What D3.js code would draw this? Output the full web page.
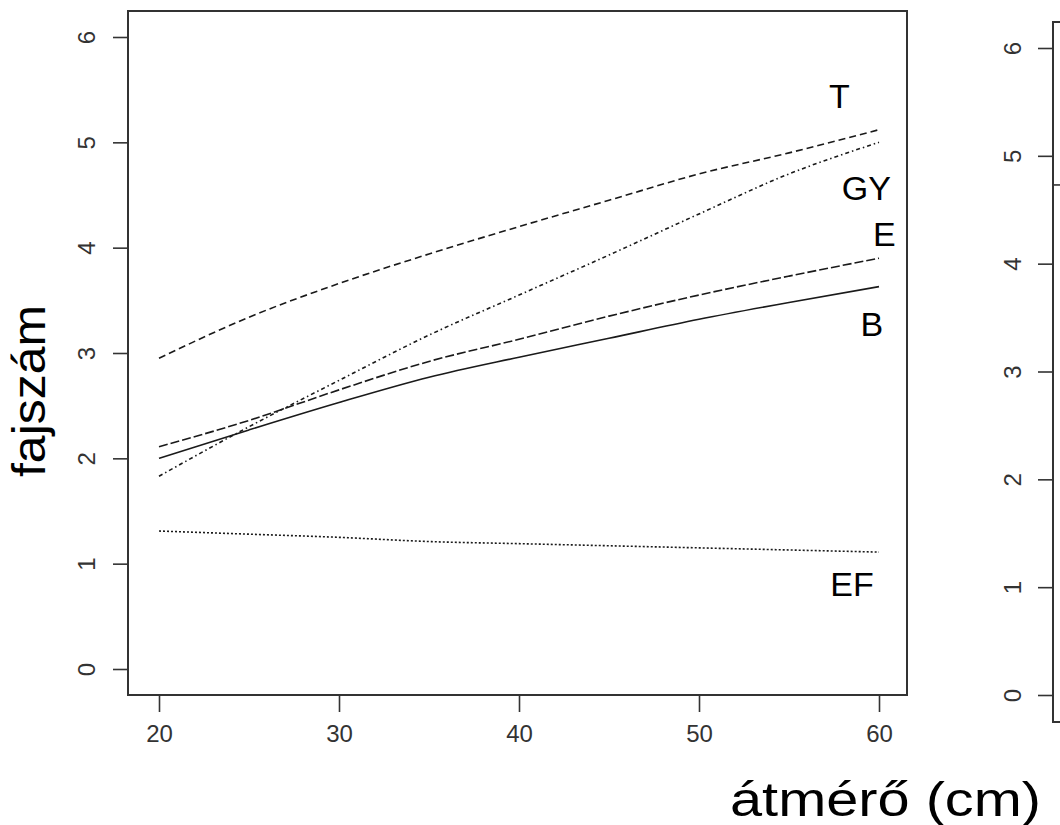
<!DOCTYPE html>
<html>
<head>
<meta charset="utf-8">
<script src="https://cdn.jsdelivr.net/npm/d3@7"></script>
<style>
  body { margin: 0; background: #fff; }
  svg { display: block; font-family: "Liberation Sans", Arial, sans-serif; }
</style>
</head>
<body>
<svg width="1060" height="825"></svg>
<script>
// diameter classes (cm)
let diameters = [20, 25, 30, 35, 40, 45, 50, 55, 60]
// species richness curves
let seriesT = [2.95, 3.34, 3.66, 3.94, 4.2, 4.45, 4.7, 4.9, 5.12]
let seriesGY = [1.83, 2.3, 2.74, 3.17, 3.55, 3.93, 4.32, 4.7, 5.0]
let seriesE = [2.11, 2.36, 2.65, 2.92, 3.13, 3.35, 3.55, 3.73, 3.9]
let seriesB = [2.0, 2.27, 2.53, 2.77, 2.96, 3.14, 3.32, 3.48, 3.63]
let seriesEF = [1.31, 1.28, 1.25, 1.21, 1.19, 1.17, 1.15, 1.13, 1.11]
let seriesNames = ['T', 'GY', 'E', 'B', 'EF']
// label anchor points in data units
let labelX = [57.8, 59.3, 60.3, 59.6, 58.5]
let labelY = [5.44, 4.57, 4.13, 3.28, 0.81]
let xTicks = [20, 30, 40, 50, 60]
let yTicks = [0, 1, 2, 3, 4, 5, 6]
let rightRefValue = 4.73 // the only line visible in the cut-off right panel

let svg = d3.select('svg')
let ink = '#1a1a1a'

// left panel
let x = d3.scaleLinear().domain([20, 60]).range([159, 879])
let y = d3.scaleLinear().domain([0, 6]).range([669, 37])
let box = { left: 128, right: 907, top: 11, bottom: 695 }

let left = svg.append('g').attr('class', 'left-panel')

left.append('rect')
  .attr('x', box.left).attr('y', box.top)
  .attr('width', box.right - box.left).attr('height', box.bottom - box.top)
  .attr('fill', 'none').attr('stroke', '#333').attr('stroke-width', 2)

let xAxis = left.append('g')
  .attr('transform', 'translate(0,' + box.bottom + ')')
  .call(d3.axisBottom(x).tickValues(xTicks).tickSize(17).tickPadding(13).tickFormat(d3.format('d')))
let yAxis = left.append('g')
  .attr('transform', 'translate(' + box.left + ',0)')
  .call(d3.axisLeft(y).tickValues(yTicks).tickSize(15).tickPadding(0).tickFormat(d3.format('d')))

;[xAxis, yAxis].forEach(function(a) {
  a.select('.domain').remove()
  a.selectAll('line').attr('stroke', '#333').attr('stroke-width', 1.6)
  a.selectAll('text').attr('fill', '#333').style('font-size', '24px')
})
// R style: y tick labels run parallel to the axis
yAxis.selectAll('text')
  .attr('x', null).attr('dy', null)
  .attr('text-anchor', 'middle')
  .attr('transform', 'translate(-42,0) rotate(-90)')
  .attr('dominant-baseline', 'central')

let allSeries = [seriesT, seriesGY, seriesE, seriesB, seriesEF]
let dashes = ['7,4', '4,3,1.5,3', '9,3', null, '2,2']

let line = d3.line()
  .x(function(d, i) { return x(diameters[i]) })
  .y(function(d) { return y(d) })
  .curve(d3.curveMonotoneX)

left.selectAll('path.curve')
  .data(allSeries)
  .enter().append('path')
  .attr('class', 'curve')
  .attr('d', line)
  .attr('fill', 'none')
  .attr('stroke', ink)
  .attr('stroke-width', 1.6)
  .attr('stroke-dasharray', function(d, i) { return dashes[i] })

left.selectAll('text.lab')
  .data(seriesNames)
  .enter().append('text')
  .attr('class', 'lab')
  .attr('x', function(d, i) { return x(labelX[i]) })
  .attr('y', function(d, i) { return y(labelY[i]) })
  .attr('text-anchor', 'middle')
  .attr('dominant-baseline', 'central')
  .style('font-size', '34px')
  .attr('fill', '#000')
  .text(function(d) { return d })

// axis titles
svg.append('text')
  .attr('transform', 'translate(29,391) rotate(-90)')
  .attr('text-anchor', 'middle')
  .attr('dominant-baseline', 'central')
  .attr('textLength', 172)
  .attr('lengthAdjust', 'spacingAndGlyphs')
  .style('font-size', '46px')
  .text('fajszám')

svg.append('text')
  .attr('x', 1041).attr('y', 816)
  .attr('text-anchor', 'end')
  .attr('textLength', 311)
  .attr('lengthAdjust', 'spacingAndGlyphs')
  .style('font-size', '48px')
  .text('átmérő (cm)')

// right panel, cut off by the page edge
let y2 = d3.scaleLinear().domain([0, 6]).range([695, 48])
let right = svg.append('g').attr('class', 'right-panel')
right.append('rect')
  .attr('x', 1053).attr('y', 22)
  .attr('width', 300).attr('height', 700)
  .attr('fill', 'none').attr('stroke', '#333').attr('stroke-width', 2)
let yAxis2 = right.append('g')
  .attr('transform', 'translate(1053,0)')
  .call(d3.axisLeft(y2).tickValues(yTicks).tickSize(15).tickPadding(0).tickFormat(d3.format('d')))
yAxis2.select('.domain').remove()
yAxis2.selectAll('line').attr('stroke', '#333').attr('stroke-width', 1.6)
yAxis2.selectAll('text')
  .attr('fill', '#333').style('font-size', '24px')
  .attr('x', null).attr('dy', null)
  .attr('text-anchor', 'middle')
  .attr('transform', 'translate(-41,0) rotate(-90)')
  .attr('dominant-baseline', 'central')
right.append('line')
  .attr('x1', 1053).attr('x2', 1060)
  .attr('y1', y2(rightRefValue)).attr('y2', y2(rightRefValue))
  .attr('stroke', '#333').attr('stroke-width', 1.6)
</script>
</body>
</html>
